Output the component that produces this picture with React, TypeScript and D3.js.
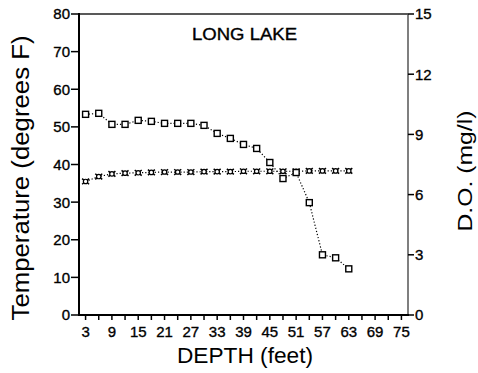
import React from "react";
import * as d3 from "d3";

const depths = [3, 6, 9, 12, 15, 18, 21, 24, 27, 30, 33, 36, 39, 42, 45, 48, 51, 54, 57, 60, 63];
const doValues = [10.0, 10.05, 9.5, 9.5, 9.7, 9.65, 9.55, 9.55, 9.55, 9.45, 9.05, 8.8, 8.5, 8.3, 7.6, 6.8, 7.1, 5.6, 3.0, 2.85, 2.3];
const tempValues = [35.5, 36.8, 37.5, 37.7, 37.8, 37.9, 38.0, 38.0, 38.0, 38.1, 38.1, 38.1, 38.2, 38.2, 38.2, 38.2, 38.2, 38.3, 38.3, 38.3, 38.3];
const xTicks = d3.range(3, 76, 3);
const xLabels = d3.range(3, 76, 6);
const leftTicks = d3.range(0, 81, 10);
const rightTicks = d3.range(0, 16, 3);
const title = "LONG LAKE";

const W = 478, H = 373;
const L = 79, R = 408, T = 14, B = 315;
const font = "Arial, 'Liberation Sans', Helvetica, sans-serif";

export default function App() {
  const x = d3.scaleLinear().domain([1.5, 76.5]).range([L, R]);
  const yT = d3.scaleLinear().domain([0, 80]).range([B, T]);
  const yD = d3.scaleLinear().domain([0, 15]).range([B, T]);

  const doPts = depths.map((d, i) => [x(d), yD(doValues[i])] as [number, number]);
  const tPts = depths.map((d, i) => [x(d), yT(tempValues[i])] as [number, number]);
  const line = d3.line();
  const heavy = { stroke: "#000", strokeWidth: 0.35 };

  return (
    <svg width={W} height={H} style={{ position: "absolute", left: 0, top: 0, background: "#fff" }} fontFamily={font}>
      <rect x={0} y={0} width={W} height={H} fill="#fff" />
      {/* frame */}
      <line x1={L} x2={R} y1={T} y2={T} stroke="#222" strokeWidth={1.5} />
      <line x1={R} x2={R} y1={T} y2={B} stroke="#555" strokeWidth={1.5} />
      <line x1={L} x2={L} y1={T - 1} y2={B + 1} stroke="#000" strokeWidth={2} />
      <line x1={L - 1} x2={R + 1} y1={B} y2={B} stroke="#000" strokeWidth={2} />

      {/* left ticks */}
      {leftTicks.map((v) => (
        <g key={"l" + v}>
          <line x1={L - 8} x2={L} y1={yT(v)} y2={yT(v)} stroke="#000" strokeWidth={1.5} />
          <text x={L - 9} y={yT(v)} dy="0.36em" textAnchor="end" fontSize={15} fill="#000" {...heavy}>{v}</text>
        </g>
      ))}
      {/* right ticks */}
      {rightTicks.map((v) => (
        <g key={"r" + v}>
          <line x1={R} x2={R + 6} y1={yD(v)} y2={yD(v)} stroke="#000" strokeWidth={1.5} />
          <text x={R + 7} y={yD(v)} dy="0.36em" textAnchor="start" fontSize={15} fill="#000" {...heavy}>{v}</text>
        </g>
      ))}
      {/* bottom ticks */}
      {xTicks.map((v) => (
        <line key={"b" + v} x1={x(v)} x2={x(v)} y1={B} y2={B + 5} stroke="#000" strokeWidth={1.5} />
      ))}
      {xLabels.map((v) => (
        <text key={"bl" + v} x={x(v)} y={337} textAnchor="middle" fontSize={15} fill="#000" {...heavy}>{v}</text>
      ))}

      {/* axis titles */}
      <text x={245} y={363} textAnchor="middle" fontSize={22} fill="#000" textLength={136} lengthAdjust="spacingAndGlyphs">DEPTH (feet)</text>
      <text transform="translate(29,178) rotate(-90)" textAnchor="middle" fontSize={23} fill="#000" textLength={285} lengthAdjust="spacingAndGlyphs">Temperature (degrees F)</text>
      <text transform="translate(472,171) rotate(-90)" textAnchor="middle" fontSize={20} fill="#000" textLength={121} lengthAdjust="spacingAndGlyphs">D.O. (mg/l)</text>
      <text x={192} y={40} textAnchor="start" fontSize={16} fill="#000" textLength={105} lengthAdjust="spacingAndGlyphs" {...heavy}>{title}</text>

      {/* series lines */}
      <path d={line(tPts) || ""} fill="none" stroke="#000" strokeWidth={1.2} strokeDasharray="1.2,2" />
      <path d={line(doPts) || ""} fill="none" stroke="#000" strokeWidth={1.2} strokeDasharray="1.2,2" />

      {/* temp markers */}
      {tPts.map(([px, py], i) => (
        <g key={"t" + i} stroke="#000" strokeWidth={1.5} fill="none">
          <line x1={px - 3.5} x2={px + 3.5} y1={py - 2.8} y2={py + 2.8} />
          <line x1={px - 3.5} x2={px + 3.5} y1={py + 2.8} y2={py - 2.8} />
          <circle cx={px} cy={py} r={2.2} fill="#fff" strokeWidth={1.2} />
        </g>
      ))}
      {/* DO markers */}
      {doPts.map(([px, py], i) => (
        <rect key={"d" + i} x={px - 3} y={py - 3} width={6} height={6} fill="#fff" stroke="#000" strokeWidth={1.4} />
      ))}
    </svg>
  );
}
